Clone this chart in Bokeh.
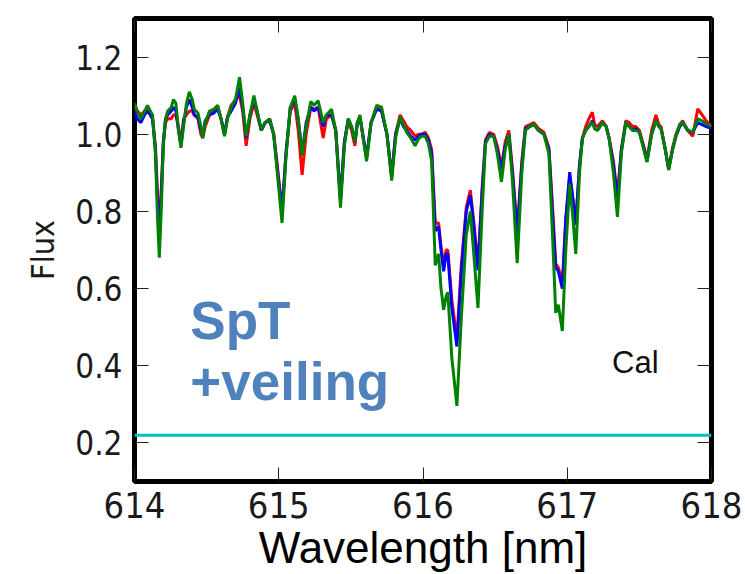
from bokeh.plotting import figure
from bokeh.models import Range1d, LinearAxis, FixedTicker, Label, Span
from bokeh.embed import file_html
from bokeh.resources import INLINE

# ---------------- data ----------------
wavelength = [
    614.000, 614.020, 614.044, 614.070, 614.090, 614.110, 614.125, 614.145, 614.160, 614.172,
    614.185, 614.200, 614.215, 614.230, 614.255, 614.270, 614.287, 614.305, 614.322, 614.340,
    614.360, 614.380, 614.400, 614.414, 614.440, 614.460, 614.473, 614.490, 614.520, 614.550,
    614.577, 614.600, 614.624, 614.645, 614.670, 614.700, 614.728, 614.750, 614.774, 614.800,
    614.828, 614.850, 614.879, 614.905, 614.937, 614.965, 614.990, 615.023, 615.050, 615.080,
    615.111, 615.135, 615.162, 615.190, 615.222, 615.245, 615.273, 615.290, 615.308, 615.330,
    615.366, 615.395, 615.428, 615.455, 615.482, 615.505, 615.528, 615.545, 615.563, 615.585,
    615.609, 615.640, 615.679, 615.713, 615.750, 615.783, 615.810, 615.841, 615.865, 615.887,
    615.915, 615.945, 615.969, 615.990, 616.015, 616.038, 616.060, 616.085, 616.108, 616.125,
    616.143, 616.160, 616.172, 616.200, 616.235, 616.265, 616.300, 616.328, 616.350, 616.381,
    616.410, 616.433, 616.460, 616.490, 616.515, 616.544, 616.570, 616.595, 616.620, 616.653,
    616.685, 616.710, 616.740, 616.769, 616.800, 616.838, 616.873, 616.900, 616.920, 616.938,
    616.966, 616.990, 617.017, 617.040, 617.059, 617.085, 617.105, 617.128, 617.150, 617.174,
    617.190, 617.209, 617.244, 617.270, 617.290, 617.320, 617.348, 617.375, 617.406, 617.430,
    617.453, 617.475, 617.500, 617.530, 617.553, 617.585, 617.615, 617.635, 617.650, 617.680,
    617.703, 617.730, 617.754, 617.780, 617.800, 617.835, 617.870, 617.905, 617.935, 617.963,
    618.000,
]

flux_green = [
    1.080, 1.060, 1.040, 1.060, 1.075, 1.060, 1.050, 0.950, 0.780, 0.680,
    0.800, 0.970, 1.040, 1.060, 1.070, 1.090, 1.080, 1.010, 0.965, 1.020,
    1.080, 1.110, 1.090, 1.065, 1.055, 1.020, 0.990, 1.030, 1.060, 1.065,
    1.075, 1.040, 0.995, 1.040, 1.070, 1.090, 1.148, 1.080, 0.995, 1.050,
    1.100, 1.060, 1.010, 1.030, 1.040, 1.000, 0.900, 0.770, 0.940, 1.070,
    1.100, 1.040, 0.945, 1.020, 1.085, 1.075, 1.087, 1.060, 1.030, 1.050,
    1.065, 1.010, 0.810, 0.970, 1.040, 1.020, 0.980, 1.030, 1.050, 0.990,
    0.930, 1.030, 1.075, 1.070, 1.000, 0.880, 0.990, 1.045, 1.025, 1.005,
    0.990, 0.970, 0.988, 0.995, 0.995, 0.975, 0.930, 0.660, 0.690, 0.600,
    0.545, 0.580, 0.590, 0.420, 0.296, 0.520, 0.740, 0.800, 0.700, 0.550,
    0.800, 0.975, 0.995, 0.995, 0.950, 0.877, 0.960, 1.000, 0.880, 0.666,
    0.900, 1.010, 1.020, 1.027, 1.010, 1.000, 0.950, 0.720, 0.537, 0.558,
    0.490, 0.700, 0.872, 0.780, 0.690, 0.900, 0.990, 1.010, 1.020, 1.031,
    1.015, 1.010, 1.030, 1.020, 0.990, 0.900, 0.786, 0.950, 1.031, 1.020,
    1.010, 1.010, 1.006, 0.960, 0.928, 1.000, 1.036, 1.020, 1.014, 0.960,
    0.907, 0.960, 0.997, 1.025, 1.031, 1.010, 1.006, 1.040, 1.035, 1.027,
    1.020,
]

flux_blue = [
    1.060, 1.040, 1.030, 1.050, 1.060, 1.050, 1.040, 0.960, 0.820, 0.730,
    0.840, 0.980, 1.040, 1.050, 1.060, 1.070, 1.060, 1.010, 0.975, 1.030,
    1.070, 1.090, 1.070, 1.050, 1.045, 1.010, 1.000, 1.035, 1.050, 1.055,
    1.065, 1.040, 1.000, 1.045, 1.060, 1.080, 1.120, 1.070, 0.990, 1.050,
    1.090, 1.060, 1.010, 1.030, 1.035, 1.000, 0.910, 0.800, 0.950, 1.070,
    1.090, 1.040, 0.950, 1.030, 1.070, 1.060, 1.070, 1.050, 1.020, 1.050,
    1.050, 1.010, 0.830, 0.980, 1.040, 1.020, 0.980, 1.030, 1.045, 0.995,
    0.940, 1.030, 1.065, 1.060, 1.000, 0.890, 1.000, 1.040, 1.020, 1.010,
    0.995, 0.985, 0.995, 1.000, 1.000, 0.985, 0.950, 0.750, 0.760, 0.700,
    0.645, 0.690, 0.690, 0.550, 0.450, 0.640, 0.800, 0.842, 0.770, 0.648,
    0.850, 0.980, 1.000, 0.995, 0.960, 0.910, 0.970, 1.000, 0.900, 0.740,
    0.920, 1.015, 1.020, 1.025, 1.010, 1.000, 0.960, 0.780, 0.655, 0.645,
    0.600, 0.780, 0.902, 0.830, 0.765, 0.920, 0.990, 1.010, 1.020, 1.035,
    1.015, 1.010, 1.030, 1.020, 0.990, 0.920, 0.829, 0.960, 1.030, 1.020,
    1.010, 1.015, 1.005, 0.965, 0.930, 1.000, 1.035, 1.020, 1.015, 0.960,
    0.910, 0.960, 0.995, 1.020, 1.030, 1.010, 1.005, 1.030, 1.025, 1.020,
    1.015,
]

flux_red = [
    1.070, 1.060, 1.050, 1.060, 1.065, 1.050, 1.040, 0.970, 0.840, 0.745,
    0.850, 0.980, 1.030, 1.040, 1.040, 1.050, 1.050, 1.020, 0.970, 1.040,
    1.050, 1.060, 1.060, 1.050, 1.040, 1.000, 0.990, 1.020, 1.050, 1.060,
    1.070, 1.040, 1.000, 1.045, 1.075, 1.090, 1.100, 1.060, 0.970, 1.040,
    1.080, 1.050, 1.010, 1.030, 1.040, 1.000, 0.920, 0.800, 0.950, 1.060,
    1.080, 1.010, 0.895, 1.000, 1.070, 1.065, 1.070, 1.030, 0.990, 1.040,
    1.050, 1.010, 0.830, 0.980, 1.035, 1.010, 0.970, 1.030, 1.045, 0.990,
    0.940, 1.030, 1.070, 1.060, 1.000, 0.890, 1.000, 1.050, 1.035, 1.020,
    1.010, 0.995, 1.000, 1.000, 1.005, 0.990, 0.960, 0.770, 0.770, 0.710,
    0.660, 0.700, 0.700, 0.570, 0.470, 0.660, 0.810, 0.855, 0.780, 0.660,
    0.860, 0.985, 1.005, 1.000, 0.970, 0.915, 0.980, 1.010, 0.910, 0.750,
    0.930, 1.020, 1.025, 1.030, 1.015, 1.005, 0.965, 0.800, 0.665, 0.655,
    0.615, 0.780, 0.890, 0.830, 0.770, 0.920, 0.990, 1.020, 1.040, 1.057,
    1.025, 1.020, 1.035, 1.020, 0.990, 0.930, 0.840, 0.960, 1.035, 1.030,
    1.020, 1.020, 1.010, 0.970, 0.935, 1.010, 1.050, 1.025, 1.020, 0.960,
    0.910, 0.965, 1.000, 1.025, 1.035, 1.010, 0.995, 1.066, 1.050, 1.035,
    1.020,
]

veiling_level = 0.22

x_ticks = [614, 615, 616, 617, 618]
x_tick_labels = ["614", "615", "616", "617", "618"]
y_ticks = [0.2, 0.4, 0.6, 0.8, 1.0, 1.2]
y_tick_labels = ["0.2", "0.4", "0.6", "0.8", "1.0", "1.2"]

# ---------------- figure ----------------
p = figure(width=745, height=574, output_backend="svg", toolbar_location=None,
           x_range=Range1d(614, 618), y_range=Range1d(0.1, 1.3),
           min_border_left=134, min_border_right=34, min_border_top=18, min_border_bottom=92,
           x_axis_label="Wavelength [nm]", y_axis_label="Flux")
p.background_fill_color = "white"
p.border_fill_color = "white"
p.outline_line_color = "black"
p.outline_line_width = 5
p.xgrid.visible = False
p.ygrid.visible = False

tick_font = "DejaVu Sans Condensed"

def style_axis(ax, ticks, labels, size="33px", show_labels=True):
    ax.ticker = FixedTicker(ticks=ticks)
    ax.major_label_overrides = {t: l for t, l in zip(ticks, labels)}
    ax.axis_line_color = None
    ax.major_tick_in = 14
    ax.major_tick_out = 0
    ax.major_tick_line_color = "#222222"
    ax.major_tick_line_width = 1
    ax.minor_tick_line_color = None
    ax.major_label_text_font = tick_font
    ax.major_label_text_font_size = size if show_labels else "0px"
    ax.major_label_text_color = "#1a1a1a" if show_labels else None

xa = p.xaxis[0]
style_axis(xa, x_ticks, x_tick_labels, size="36px")
xa.major_label_standoff = 10
xa.axis_label_text_font = "Liberation Sans"
xa.axis_label_text_font_size = "44px"
xa.axis_label_text_font_style = "normal"
xa.axis_label_text_color = "#000000"
xa.axis_label_standoff = 2

ya = p.yaxis[0]
style_axis(ya, y_ticks, y_tick_labels, size="33px")
ya.major_label_standoff = 12
ya.axis_label_text_font = tick_font
ya.axis_label_text_font_size = "32px"
ya.axis_label_text_font_style = "normal"
ya.axis_label_text_color = "#1a1a1a"
ya.axis_label_standoff = 10

ra = LinearAxis()
style_axis(ra, y_ticks, y_tick_labels, show_labels=False)
ra.major_label_standoff = 0
p.add_layout(ra, "right")

ta = LinearAxis()
style_axis(ta, x_ticks, x_tick_labels, show_labels=False)
ta.major_label_standoff = 0
p.add_layout(ta, "above")

# spectra
p.line(wavelength, flux_red, line_color="#ff0000", line_width=3)
p.line(wavelength, flux_blue, line_color="#0000ff", line_width=3)
p.line(wavelength, flux_green, line_color="#008000", line_width=3)

p.add_layout(Span(location=veiling_level, dimension="width",
                  line_color="#00bfbf", line_width=3))

# annotations
p.add_layout(Label(x=614.387, y=0.518, text="SpT", text_font="Liberation Sans",
                   text_font_style="bold", text_font_size="53px", text_color="#4f81bd",
                   text_baseline="alphabetic", text_align="left"))
p.add_layout(Label(x=614.387, y=0.360, text="+veiling", text_font="Liberation Sans",
                   text_font_style="bold", text_font_size="53px", text_color="#4f81bd",
                   text_baseline="alphabetic", text_align="left"))
p.add_layout(Label(x=617.311, y=0.409, text="Cal", text_font="Liberation Sans",
                   text_font_size="31px", text_color="#111111",
                   text_baseline="alphabetic", text_align="left"))

open("out.html", "w").write(file_html(p, INLINE))
